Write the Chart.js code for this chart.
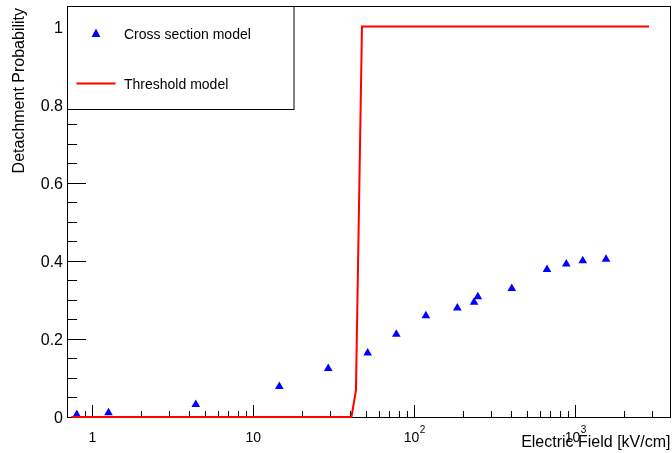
<!DOCTYPE html>
<html>
<head>
<meta charset="utf-8">
<script src="https://cdn.jsdelivr.net/npm/chart.js@4/dist/chart.umd.min.js"></script>
<style>
  html, body { margin: 0; padding: 0; background: #fff; }
  canvas { display: block; }
</style>
</head>
<body>
<canvas id="c" width="672" height="453"></canvas>
<script>
// values
const crossField = [0.80, 1.26, 4.39, 14.5, 29.2, 51.3, 77.3, 118, 185, 235, 248, 403, 667, 879, 1112, 1552];
const crossProb = [0.006, 0.011, 0.032, 0.078, 0.124, 0.164, 0.212, 0.259, 0.279, 0.294, 0.308, 0.329, 0.378, 0.392, 0.400, 0.404];
const thresholdField = [0.74, 40.7, 43.4, 47.3, 2870];
const thresholdProb = [0, 0, 0.069, 1, 1];

const xMajor = [1, 10, 100, 1000];
const xMajorLabels = [["1", ""], ["10", ""], ["10", "2"], ["10", "3"]];
const xMinor = [0.8, 0.9, 2, 3, 4, 5, 6, 7, 8, 9, 20, 30, 40, 50, 60, 70, 80, 90,
  200, 300, 400, 500, 600, 700, 800, 900, 2000, 3000];
const yMajor = [0, 0.2, 0.4, 0.6, 0.8, 1];
const yMajorLabels = ["0", "0.2", "0.4", "0.6", "0.8", "1"];
const yMinor = [0.05, 0.1, 0.15, 0.25, 0.3, 0.35, 0.45, 0.5, 0.55, 0.65, 0.7, 0.75, 0.85, 0.9, 0.95, 1.05];

const FONT = "'Liberation Sans', Arial, Helvetica, sans-serif";

// ROOT-style frame: ticks inside, labels and titles drawn by hand
const rootFrame = {
  id: "rootFrame",
  beforeDatasetsDraw(chart) {
    const { ctx, chartArea: a, scales: { x, y } } = chart;
    ctx.save();
    ctx.strokeStyle = "#000";
    ctx.lineWidth = 1;
    ctx.strokeRect(a.left - 0.5, a.top + 0.5, a.right - a.left, a.bottom - a.top);

    ctx.beginPath();
    for (const v of xMajor) {
      const px = Math.round(x.getPixelForValue(v)) + 0.5;
      ctx.moveTo(px, a.bottom); ctx.lineTo(px, a.bottom - 12);
    }
    for (const v of xMinor) {
      const px = Math.round(x.getPixelForValue(v)) + 0.5;
      ctx.moveTo(px, a.bottom); ctx.lineTo(px, a.bottom - 6);
    }
    for (const v of yMajor) {
      const py = Math.round(y.getPixelForValue(v)) + 0.5;
      ctx.moveTo(a.left, py); ctx.lineTo(a.left + 18, py);
    }
    for (const v of yMinor) {
      const py = Math.round(y.getPixelForValue(v)) + 0.5;
      ctx.moveTo(a.left, py); ctx.lineTo(a.left + 9, py);
    }
    ctx.stroke();

    ctx.fillStyle = "#000";
    // y tick labels
    ctx.font = "16px " + FONT;
    ctx.textAlign = "right";
    ctx.textBaseline = "alphabetic";
    yMajor.forEach((v, i) => {
      ctx.fillText(yMajorLabels[i], 63, y.getPixelForValue(v) + 6);
    });
    // x tick labels, with superscript exponents
    xMajor.forEach((v, i) => {
      const [base, exp] = xMajorLabels[i];
      ctx.font = "14px " + FONT;
      const wb = ctx.measureText(base).width;
      ctx.font = "10px " + FONT;
      const we = exp ? ctx.measureText(exp).width : 0;
      const left = x.getPixelForValue(v) - (wb + we) / 2;
      ctx.textAlign = "left";
      ctx.font = "14px " + FONT;
      ctx.fillText(base, left, 441.5);
      if (exp) {
        ctx.font = "10px " + FONT;
        ctx.fillText(exp, left + wb + 0.5, 433);
      }
    });
    // axis titles
    ctx.font = "16px " + FONT;
    ctx.textAlign = "right";
    ctx.fillText("Electric Field [kV/cm]", 670.5, 446.5);
    ctx.save();
    ctx.translate(24, 8);
    ctx.rotate(-Math.PI / 2);
    ctx.fillText("Detachment Probability", 0, 0);
    ctx.restore();
    ctx.restore();
  },
  afterDraw(chart) {
    const { ctx, chartArea: a } = chart;
    ctx.save();
    ctx.fillStyle = "#fff";
    ctx.fillRect(a.left, a.top + 1, 226, 102);
    ctx.strokeStyle = "#000";
    ctx.lineWidth = 1;
    ctx.strokeRect(a.left - 0.5, a.top + 0.5, 226.5, 103);

    // triangle marker
    ctx.fillStyle = "#0000ff";
    ctx.beginPath();
    ctx.moveTo(96, 28.5);
    ctx.lineTo(100.4, 37);
    ctx.lineTo(91.6, 37);
    ctx.closePath();
    ctx.fill();

    ctx.strokeStyle = "#ff0000";
    ctx.lineWidth = 2;
    ctx.beginPath();
    ctx.moveTo(76.5, 83.5);
    ctx.lineTo(115.5, 83.5);
    ctx.stroke();

    ctx.fillStyle = "#000";
    ctx.font = "14px " + FONT;
    ctx.textAlign = "left";
    ctx.textBaseline = "alphabetic";
    ctx.fillText("Cross section model", 124, 38.5);
    ctx.fillText("Threshold model", 124, 89);
    ctx.restore();
  }
};

new Chart(document.getElementById("c"), {
  type: "scatter",
  data: {
    datasets: [
      {
        label: "Cross section model",
        data: crossField.map((v, i) => ({ x: v, y: crossProb[i] })),
        pointStyle: "triangle",
        pointRadius: 5,
        borderWidth: 0,
        backgroundColor: "#0000ff",
        borderColor: "#0000ff",
        order: 1,
      },
      {
        label: "Threshold model",
        data: thresholdField.map((v, i) => ({ x: v, y: thresholdProb[i] })),
        showLine: true,
        pointRadius: 0,
        borderColor: "#ff0000",
        borderWidth: 2,
        tension: 0,
        clip: 4,
        order: 0,
      },
    ],
  },
  options: {
    responsive: false,
    animation: false,
    devicePixelRatio: 1,
    layout: { autoPadding: false, padding: { left: 68, top: 6, right: 1, bottom: 36 } },
    plugins: { legend: { display: false }, tooltip: { enabled: false } },
    scales: {
      x: { type: "logarithmic", bounds: "data", min: 0.706, max: 3930, display: false },
      y: { type: "linear", bounds: "data", min: 0, max: 1.0525, display: false },
    },
  },
  plugins: [rootFrame],
});
</script>
</body>
</html>
